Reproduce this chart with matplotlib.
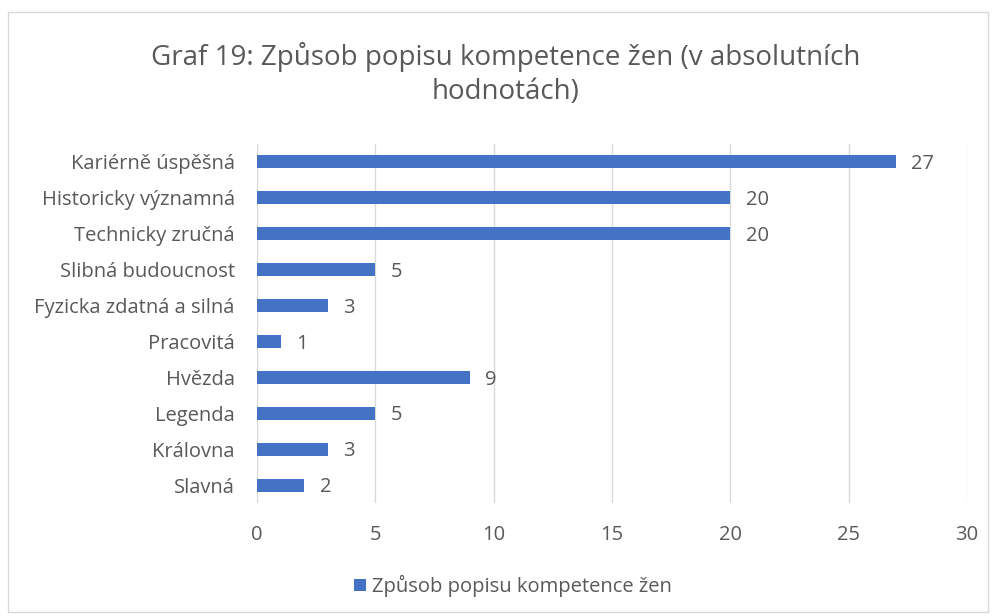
import matplotlib.pyplot as plt
import matplotlib.patches as patches

categories = ["Kariérně úspěšná", "Historicky významná", "Technicky zručná",
              "Slibná budoucnost", "Fyzicka zdatná a silná", "Pracovitá",
              "Hvězda", "Legenda", "Královna", "Slavná"]
values = [27, 20, 20, 5, 3, 1, 9, 5, 3, 2]
series_name = "Způsob popisu kompetence žen"
title = "Graf 19: Způsob popisu kompetence žen (v absolutních\nhodnotách)"

plt.rcParams['font.family'] = ['Open Sans', 'DejaVu Sans']
text_color = '#595959'
bar_color = '#4472C4'

fig = plt.figure(figsize=(9.96, 6.16), dpi=100)
fig.patches.append(patches.Rectangle((8 / 996, 1 - 612 / 616), 980 / 996, 600 / 616,
                                     transform=fig.transFigure, fill=False,
                                     edgecolor='#d9d9d9', linewidth=1))
ax = fig.add_axes([257 / 996, 1 - 503 / 616, 710 / 996, 359 / 616])

y = list(range(len(categories)))
bars = ax.barh(y, values, height=0.36, color=bar_color, label=series_name, zorder=3)
ax.set_ylim(len(categories) - 0.5, -0.5)
ax.set_xlim(0, 30)
ax.set_xticks(range(0, 31, 5))
ax.set_yticks(y)
ax.set_yticklabels(categories)
ax.grid(axis='x', color='#d9d9d9', linewidth=1, zorder=0)
for s in ax.spines.values():
    s.set_visible(False)
ax.tick_params(length=0, labelsize=14.5, colors=text_color)
ax.tick_params(axis='y', pad=16)
ax.tick_params(axis='x', pad=16)

# value labels, slightly below the bar centre like the original
for b, v in zip(bars, values):
    ax.text(b.get_width() + 0.65, b.get_y() + b.get_height() / 2 + 0.06, str(v),
            va='center', ha='left', fontsize=14.5, color=text_color)

fig.text(0.508, 1 - 74 / 616, title, ha='center', va='center', fontsize=20,
         color=text_color, linespacing=1.3)
fig.legend(loc='center', bbox_to_anchor=(0.515, 1 - 586 / 616), frameon=False,
           fontsize=14.5, labelcolor=text_color, handlelength=0.6, handleheight=0.6,
           handletextpad=0.3)

fig.savefig('out.png', dpi=100)
